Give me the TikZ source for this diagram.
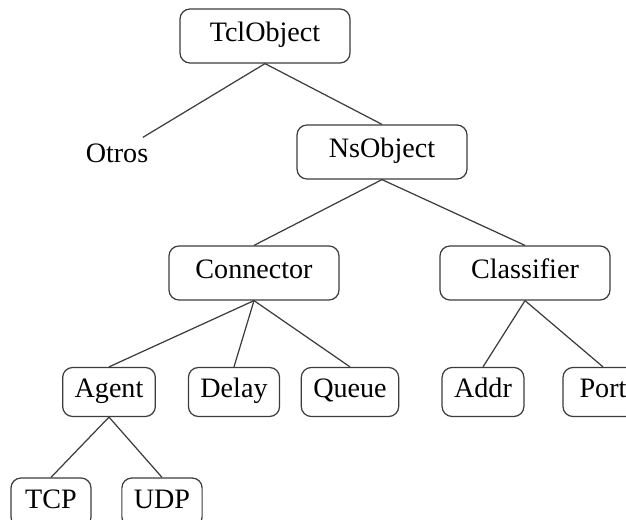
\documentclass[tikz,border=0pt]{standalone}
\usepackage{fontspec}
\setmainfont{Liberation Serif}
\usetikzlibrary{positioning}
\definecolor{tline}{RGB}{60,60,60}

\begin{document}
\begin{tikzpicture}[
  bigbox/.style={rectangle,rounded corners=0.2cm,draw=tline,line width=0.7pt,
                 font=\fontsize{16}{19}\selectfont,minimum width=3.4cm,minimum height=1.08cm,
                 text height=0.8em,text depth=0.14em},
  smallbox/.style={rectangle,rounded corners=0.2cm,draw=tline,line width=0.7pt,
                 font=\fontsize{16}{19}\selectfont,minimum width=1.6cm,minimum height=0.98cm,
                 inner xsep=0.24cm,text height=0.8em,text depth=0.14em},
  plain/.style={font=\fontsize{16}{19}\selectfont},
  edge/.style={tline,line width=0.7pt}
]
\useasboundingbox (0,0) rectangle (12.52,-10.4);

% ── Raiz ────────────────────────────────────────────────
\node[bigbox] (tcl)   at (5.30,-0.72) {TclObject};
\node[plain]  (otros) at (2.34,-3.06) {Otros};
\node[bigbox] (ns)    at (7.64,-3.04) {NsObject};
\draw[edge] (tcl.south)--(otros);
\draw[edge] (tcl.south)--(ns.north);

% ── Nivel 2 ─────────────────────────────────────────────
\node[bigbox] (conn)  at (5.08,-5.46) {Connector};
\node[bigbox] (class) at (10.50,-5.46) {Classifier};
\draw[edge] (ns.south)--(conn.north); \draw[edge] (ns.south)--(class.north);

% ── Nivel 3 ─────────────────────────────────────────────
\node[smallbox] (agent) at (2.18,-7.84) {Agent};
\node[smallbox] (delay) at (4.68,-7.84) {Delay};
\node[smallbox] (queue) at (7.00,-7.84) {Queue};
\node[smallbox] (addr)  at (9.66,-7.84) {Addr};
\node[smallbox] (port)  at (12.06,-7.84) {Port};
\draw[edge] (conn.south)--(agent.north);
\draw[edge] (conn.south)--(delay.north);
\draw[edge] (conn.south)--(queue.north);
\draw[edge] (class.south)--(addr.north); \draw[edge] (class.south)--(port.north);

% ── Nivel 4 ─────────────────────────────────────────────
\node[smallbox] (tcp) at (1.02,-10.05) {TCP};
\node[smallbox] (udp) at (3.24,-10.05) {UDP};
\draw[edge] (agent.south)--(tcp.north); \draw[edge] (agent.south)--(udp.north);

\end{tikzpicture}
\end{document}
